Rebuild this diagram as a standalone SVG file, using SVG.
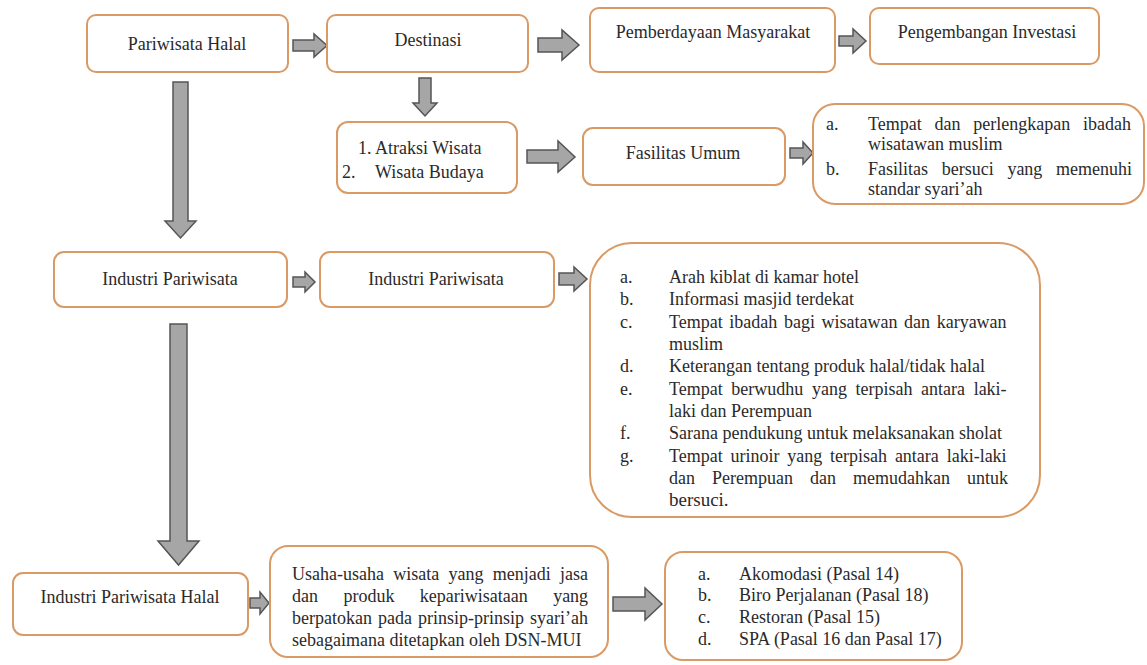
<svg xmlns="http://www.w3.org/2000/svg" width="1147" height="665" viewBox="0 0 1147 665">
<style>
.box{fill:#fff;stroke:#D99A66;stroke-width:2}
.arr{fill:#A6A6A6;stroke:#555;stroke-width:1.5;stroke-linejoin:miter}
text{font-family:"Liberation Serif","Times New Roman",serif;font-size:18px;fill:#2a2a2a}
.c{text-anchor:middle}
</style>
<rect width="1147" height="665" fill="#fff"/>
<g id="connectors">
<polygon class="arr" points="293,40 314,40 314,34 327,45.5 314,57 314,51 293,51"/>
<polygon class="arr" points="538,38 562,38 562,30 579,45 562,60 562,52 538,52"/>
<polygon class="arr" points="839,36 853,36 853,29 866,41 853,53 853,46 839,46"/>
<polygon class="arr" points="419,78 431,78 431,103 437,103 425,116 413,103 419,103"/>
<polygon class="arr" points="527,150 558,150 558,141 575,157 558,172 558,163 527,163"/>
<polygon class="arr" points="790,148 803,148 803,142 813,153 803,164 803,158 790,158"/>
<polygon class="arr" points="173,82 188,82 188,221 196,221 180.5,238 165,221 173,221"/>
<polygon class="arr" points="293,277 305,277 305,272 315,282 305,292 305,287 293,287"/>
<polygon class="arr" points="559,273 574,273 574,267 587,279 574,291 574,285 559,285"/>
<polygon class="arr" points="170,324 187,324 187,541 199,541 178.5,565 158,541 170,541"/>
<polygon class="arr" points="250,598 260,598 260,592 269,603 260,614 260,608 250,608"/>
<polygon class="arr" points="613,597 645,597 645,588 662,604 645,620 645,611 613,611"/>
</g>
<g id="n1"><rect class="box" x="87" y="15" width="201" height="57" rx="9"/><text class="c" x="187" y="50">Pariwisata Halal</text></g>
<g id="n2"><rect class="box" x="327" y="15" width="201" height="57" rx="9"/><text class="c" x="428" y="46">Destinasi</text></g>
<g id="n3"><rect class="box" x="590" y="8" width="245" height="64" rx="9"/><text class="c" x="713" y="38">Pemberdayaan Masyarakat</text></g>
<g id="n4"><rect class="box" x="870" y="8" width="229" height="56" rx="9"/><text class="c" x="987" y="38">Pengembangan Investasi</text></g>
<g id="n5"><rect class="box" x="337" y="122" width="180" height="71" rx="11"/>
<text x="358" y="154">1.</text><text x="375" y="154">Atraksi Wisata</text>
<text x="342" y="178">2.</text><text x="375" y="178">Wisata Budaya</text></g>
<g id="n6"><rect class="box" x="583" y="128" width="202" height="57" rx="10"/><text class="c" x="683" y="159">Fasilitas Umum</text></g>
<g id="n7"><rect class="box" x="813" y="104" width="331" height="100" rx="22"/>
<text x="826" y="130">a.</text><text x="868" y="130" word-spacing="8.3">Tempat dan perlengkapan ibadah</text>
<text x="868" y="150">wisatawan muslim</text>
<text x="826" y="175">b.</text><text x="868" y="175" word-spacing="9.2">Fasilitas bersuci yang memenuhi</text>
<text x="868" y="195">standar syari’ah</text></g>
<g id="n8"><rect class="box" x="54" y="252" width="233" height="55" rx="10"/><text class="c" x="170" y="285">Industri Pariwisata</text></g>
<g id="n9"><rect class="box" x="320" y="252" width="234" height="55" rx="10"/><text class="c" x="436" y="285">Industri Pariwisata</text></g>
<g id="n10"><rect class="box" x="590" y="243" width="450" height="274" rx="42"/>
<text x="620" y="283">a.</text><text x="669" y="283">Arah kiblat di kamar hotel</text>
<text x="620" y="305">b.</text><text x="669" y="305">Informasi masjid terdekat</text>
<text x="620" y="328">c.</text><text x="669" y="328" word-spacing="2.1">Tempat ibadah bagi wisatawan dan karyawan</text>
<text x="669" y="350">muslim</text>
<text x="620" y="372">d.</text><text x="669" y="372">Keterangan tentang produk halal/tidak halal</text>
<text x="620" y="395">e.</text><text x="669" y="395" word-spacing="4.1">Tempat berwudhu yang terpisah antara laki-</text>
<text x="669" y="417">laki dan Perempuan</text>
<text x="620" y="439">f.</text><text x="669" y="439">Sarana pendukung untuk melaksanakan sholat</text>
<text x="620" y="462">g.</text><text x="669" y="462" word-spacing="3.3">Tempat urinoir yang terpisah antara laki-laki</text>
<text x="669" y="484" word-spacing="12.5">dan Perempuan dan memudahkan untuk</text>
<text x="669" y="506" style="font-size:19px">bersuci.</text></g>
<g id="n11"><rect class="box" x="13" y="573" width="235" height="62" rx="10"/><text class="c" x="130" y="603">Industri Pariwisata Halal</text></g>
<g id="n12"><rect class="box" x="270" y="546" width="338" height="111" rx="18"/>
<text x="292" y="580" word-spacing="4.8">Usaha-usaha wisata yang menjadi jasa</text>
<text x="292" y="602" word-spacing="20.9">dan produk kepariwisataan yang</text>
<text x="292" y="624" word-spacing="1.5">berpatokan pada prinsip-prinsip syari’ah</text>
<text x="292" y="646">sebagaimana ditetapkan oleh DSN-MUI</text></g>
<g id="n13"><rect class="box" x="665" y="552" width="297" height="108" rx="18"/>
<text x="698" y="580">a.</text><text x="739" y="580">Akomodasi (Pasal 14)</text>
<text x="698" y="601">b.</text><text x="739" y="601">Biro Perjalanan (Pasal 18)</text>
<text x="698" y="623">c.</text><text x="739" y="623">Restoran (Pasal 15)</text>
<text x="698" y="645">d.</text><text x="739" y="645">SPA (Pasal 16 dan Pasal 17)</text></g>
</svg>
